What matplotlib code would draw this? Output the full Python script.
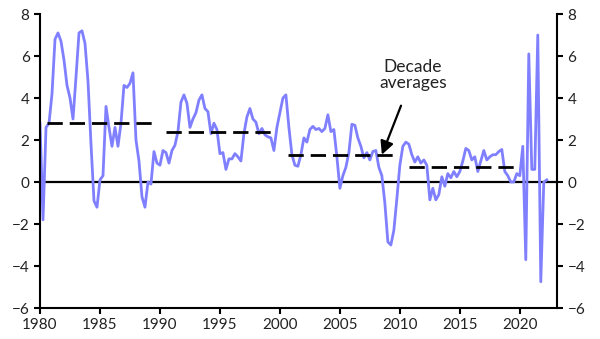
import numpy as np
import matplotlib
matplotlib.use("Agg")
import matplotlib.pyplot as plt

plt.rcParams['font.family'] = ['Lato', 'DejaVu Sans']

# quarterly values, 1980Q1 onwards (% y/y)
values = [
    2.8, -1.8, 2.6, 2.8, 4.2, 6.8, 7.1, 6.7, 5.8, 4.6, 4.0, 3.0, 5.0, 7.1, 7.2, 6.6,
    4.8, 1.8, -0.9, -1.2, 0.1, 0.3, 3.6, 2.6, 1.7, 2.6, 1.7, 2.8, 4.6, 4.5, 4.7, 5.2,
    2.0, 1.0, -0.7, -1.2, 0.0, -0.1, 1.45, 0.9, 0.8, 1.5, 1.4, 0.9, 1.5, 1.75, 2.4, 3.8,
    4.15, 3.75, 2.6, 3.0, 3.3, 3.9, 4.15, 3.5, 3.35, 2.3, 2.8, 2.5, 1.35, 1.4, 0.6, 1.1,
    1.1, 1.35, 1.2, 1.0, 2.3, 3.1, 3.5, 3.0, 2.85, 2.3, 2.55, 2.25, 2.15, 2.1, 1.5, 2.6,
    3.3, 4.0, 4.15, 2.6, 1.3, 0.8, 0.75, 1.3, 2.1, 1.9, 2.5, 2.65, 2.5, 2.55, 2.4, 2.55,
    3.2, 2.4, 2.5, 1.2, -0.3, 0.3, 0.7, 1.4, 2.75, 2.7, 2.1, 1.7, 1.15, 1.4, 1.05, 1.45,
    1.5, 0.7, 0.3, -1.0, -2.85, -3.0, -2.3, -0.8, 0.8, 1.7, 1.9, 1.8, 1.3, 0.95, 1.2, 0.9,
    1.05, 0.8, -0.85, -0.3, -0.85, -0.6, 0.25, -0.2, 0.4, 0.2, 0.5, 0.25, 0.5, 1.0, 1.6, 1.5,
    1.05, 1.2, 0.5, 1.0, 1.5, 1.05, 1.2, 1.3, 1.3, 1.45, 1.55, 0.5, 0.3, 0.0, 0.0, 0.4,
    0.3, 1.7, -3.7, 6.1, 0.6, 0.6, 7.0, -4.75, 0.0, 0.1,
]
dates = 1980 + np.arange(len(values)) / 4

# decade averages and the span each dashed line covers
avg_values = [2.8, 2.4, 1.3, 0.7]
avg_start = [1980.6, 1990.5, 2000.7, 2010.75]
avg_end = [1989.7, 1999.6, 2009.8, 2019.8]

yticks = [-6, -4, -2, 0, 2, 4, 6, 8]
xticks = [1980, 1985, 1990, 1995, 2000, 2005, 2010, 2015, 2020]

fig = plt.figure(figsize=(6, 3.39), dpi=100)
ax = fig.add_axes([0.0667, 0.0914, 0.8616, 0.8673])

ax.axhline(0, color='black', linewidth=1.6, zorder=1)
for v, s, e in zip(avg_values, avg_start, avg_end):
    ax.plot([s, e], [v, v], color='black', linewidth=2.0, dashes=(5.5, 2.5), zorder=3)
ax.plot(dates, values, color='#8080ff', linewidth=2.0, zorder=2)

ax.set_xlim(1980, 2023.1)
ax.set_ylim(-6, 8)
ax.set_xticks(xticks)
ax.set_yticks(yticks)

for side in ['left', 'right', 'bottom']:
    ax.spines[side].set_linewidth(1.5)
ax.spines['top'].set_visible(False)
ax.tick_params(axis='both', direction='out', length=4, width=1.5,
               labelsize=11, labelcolor='#222222')
ax.tick_params(axis='y', right=True, labelright=True)

ax.annotate('Decade\naverages', xy=(2008.5, 1.3), xytext=(2011.1, 5.1),
            ha='center', va='center', fontsize=12.5, color='#222222',
            linespacing=1.05,
            arrowprops=dict(arrowstyle='-|>', color='black', lw=1.6,
                            mutation_scale=20, shrinkA=9, shrinkB=0))

plt.savefig('out.png', dpi=100)
